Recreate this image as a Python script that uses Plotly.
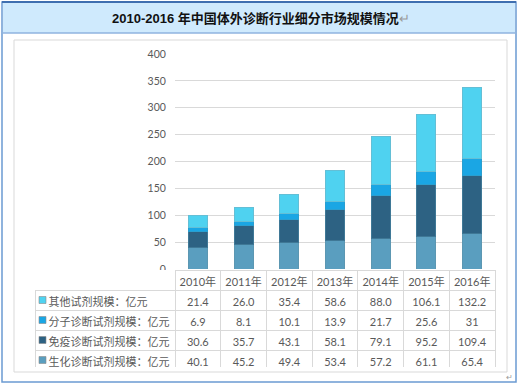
import plotly.graph_objects as go

# ---- data ----
years = ["2010年", "2011年", "2012年", "2013年", "2014年", "2015年", "2016年"]
series_names = ["其他试剂规模：亿元", "分子诊断试剂规模：亿元", "免疫诊断试剂规模：亿元", "生化诊断试剂规模：亿元"]
other = [21.4, 26.0, 35.4, 58.6, 88.0, 106.1, 132.2]
molecular = [6.9, 8.1, 10.1, 13.9, 21.7, 25.6, 31]
immuno = [30.6, 35.7, 43.1, 58.1, 79.1, 95.2, 109.4]
biochem = [40.1, 45.2, 49.4, 53.4, 57.2, 61.1, 65.4]
title_text = "2010-2016 年中国体外诊断行业细分市场规模情况"

colors = {"other": "#4fd2f0", "molecular": "#1aa6e4", "immuno": "#2d6283", "biochem": "#5a9ebf"}
outline = {"other": "#63bfd6", "molecular": "#2a9fd0", "immuno": "#3f7896", "biochem": "#5c97b2"}

W, H = 520, 385
def px(x):
    return x / W
def py(y):
    return 1 - y / H

fig = go.Figure()

stack = [("biochem", biochem, series_names[3]), ("immuno", immuno, series_names[2]),
         ("molecular", molecular, series_names[1]), ("other", other, series_names[0])]
for key, vals, name in stack:
    fig.add_trace(go.Bar(x=years, y=vals, name=name,
                         marker=dict(color=colors[key], line=dict(color=outline[key], width=1)),
                         showlegend=False, hoverinfo="skip"))

def fmt(v):
    return str(v) if isinstance(v, int) else f"{v:.1f}"

rows = [("other", other, series_names[0]), ("molecular", molecular, series_names[1]),
        ("immuno", immuno, series_names[2]), ("biochem", biochem, series_names[3])]
label_col = ["\u2002" + n for _, _, n in rows]
cols = [label_col] + [[fmt(r[1][i]) for r in rows] for i in range(len(years))]

TBL_TOP, ROW_H, TBL_LEFT = 270, 20, 35
cw_label = 140
cw_year = 320 / 7
tfont = "Lato, 'Noto Sans CJK SC'"
fig.add_trace(go.Table(
    domain=dict(x=[px(TBL_LEFT), px(495)], y=[py(TBL_TOP + ROW_H * 5 - 2), py(TBL_TOP)]),
    columnwidth=[cw_label] + [cw_year] * 7,
    header=dict(values=[""] + years, height=ROW_H, fill_color="white",
                line=dict(color=["rgba(0,0,0,0)"] + ["#d9d9d9"] * 7, width=1),
                align="center",
                font=dict(family=tfont, size=11, color="#595959")),
    cells=dict(values=cols, height=ROW_H, fill_color="white",
               line=dict(color="#d9d9d9", width=1),
               align=["left"] + ["center"] * 7,
               font=dict(family=tfont, size=11, color="#595959")),
))

shapes = [
    # outer frame
    dict(type="rect", xref="paper", yref="paper", x0=px(2), x1=px(516), y0=py(382), y1=py(2),
         line=dict(color="#6b9bd2", width=1.5), fillcolor="white", layer="below"),
    # title band
    dict(type="rect", xref="paper", yref="paper", x0=px(3), x1=px(515), y0=py(33), y1=py(3),
         line=dict(width=0), fillcolor="#cfeafd", layer="below"),
    dict(type="line", xref="paper", yref="paper", x0=px(3), x1=px(515), y0=py(33), y1=py(33),
         line=dict(color="#8fb3df", width=1.5), layer="below"),
    dict(type="line", xref="paper", yref="paper", x0=px(2), x1=px(516), y0=py(2), y1=py(2),
         line=dict(color="#3f6fb0", width=2), layer="below"),
    # chart box
    dict(type="rect", xref="paper", yref="paper", x0=px(14), x1=px(507), y0=py(372), y1=py(40),
         line=dict(color="#d9d9d9", width=1), fillcolor="white", layer="below"),
]
# legend keys in the table's label column
for i, (k, _, _) in enumerate(rows):
    yc = TBL_TOP + ROW_H * (i + 1) + ROW_H / 2
    shapes.append(dict(type="rect", xref="paper", yref="paper",
                       x0=px(TBL_LEFT + 4), x1=px(TBL_LEFT + 11), y0=py(yc + 3.5), y1=py(yc - 3.5),
                       fillcolor=colors[k], line=dict(color="#8c8c8c", width=0.6), layer="above"))

fig.update_layout(
    width=W, height=H,
    margin=dict(l=0, r=0, t=0, b=0),
    paper_bgcolor="white", plot_bgcolor="white",
    template="none",
    barmode="stack", bargap=0.585,
    shapes=shapes,
    hovermode=False,
    xaxis=dict(domain=[px(175), px(495)], showticklabels=False, showgrid=False,
               zeroline=False, showline=False, ticks="", automargin=False),
    yaxis=dict(domain=[py(269), py(54)], range=[0, 400], dtick=50, showgrid=True,
               gridcolor="#d9d9d9", gridwidth=1, zeroline=False, showline=False,
               ticks="outside", ticklen=6, tickcolor="rgba(0,0,0,0)", automargin=False,
               tickfont=dict(family=tfont, size=10.5, color="#595959")),
    annotations=[
        dict(xref="paper", yref="paper", x=px(261), y=py(18), xanchor="center", yanchor="middle",
             showarrow=False,
             text=f"<b>{title_text}</b><span style='color:#9a9a9a'>↵</span>",
             font=dict(family="'Liberation Sans', 'Noto Sans CJK SC'", size=13, color="#111111")),
        dict(xref="paper", yref="paper", x=px(509), y=py(376), xanchor="center", yanchor="middle",
             showarrow=False,
             text="↵", font=dict(family="'Noto Sans CJK SC'", size=8, color="#9a9a9a")),
    ],
)

fig.write_html("out.html", config={"displayModeBar": False},
               post_script="document.body.style.margin='0';")
